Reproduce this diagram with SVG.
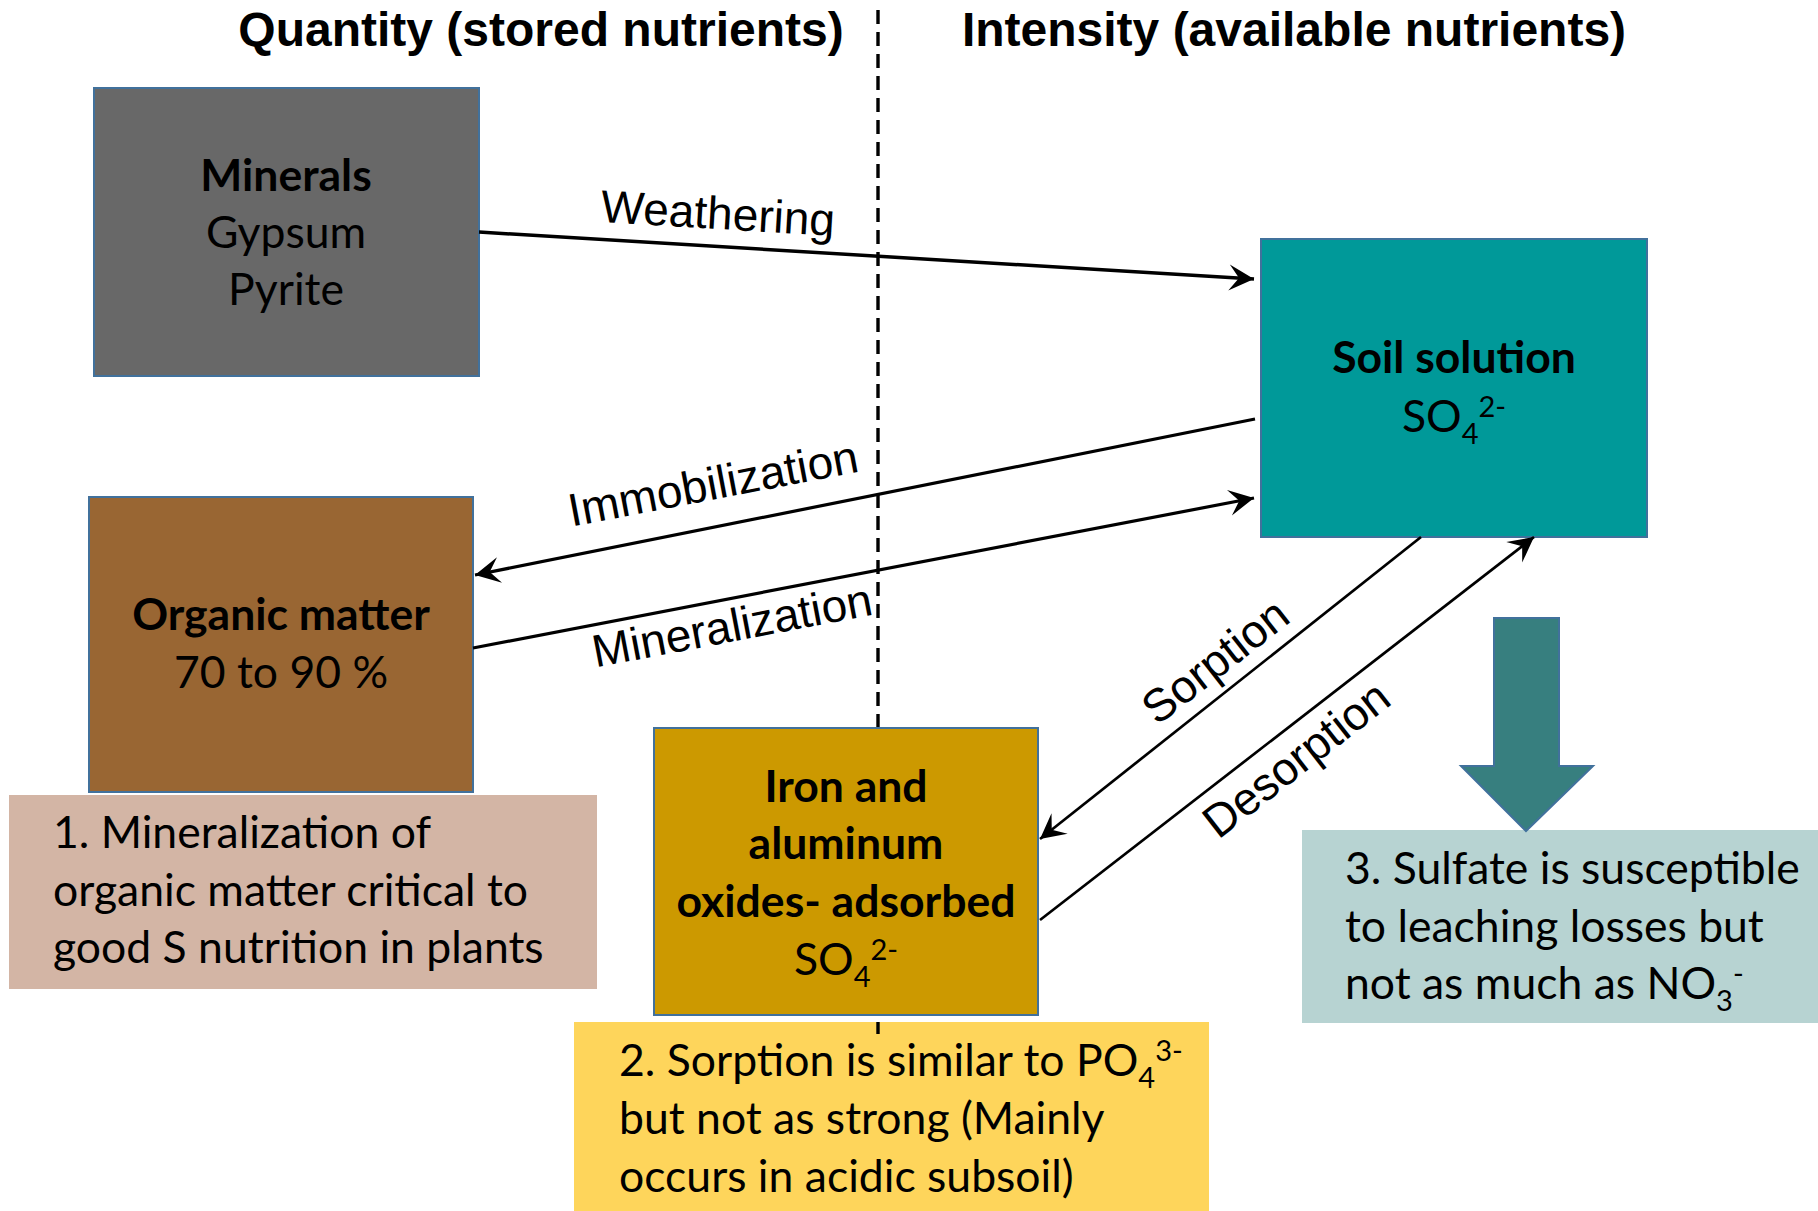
<svg xmlns="http://www.w3.org/2000/svg" width="1818" height="1211" viewBox="0 0 1818 1211">
<style>
.hdr{font-family:"Liberation Sans",Arial,sans-serif;font-weight:bold;font-size:48px;fill:#000}
.lbl{font-family:"Liberation Sans",Arial,sans-serif;font-size:46px;fill:#000}
.bt{font-family:Lato,"Open Sans",sans-serif;font-size:44.5px;fill:#000}
.b{font-weight:bold}
.box{stroke:#41719c;stroke-width:2}
.note{stroke:none}
.con{stroke:#000;fill:none}
.sm{font-size:29px}
</style>
<defs>
<marker id="ah" markerUnits="userSpaceOnUse" viewBox="-27 -15 29 30" refX="0" refY="0" markerWidth="29" markerHeight="30" orient="auto">
<path d="M0,0 L-25,-13 L-15,0 L-25,13 Z" fill="#000"/>
</marker>
</defs>
<rect width="1818" height="1211" fill="#fff"/>

<g id="headers">
<text class="hdr" x="541" y="46" text-anchor="middle">Quantity (stored nutrients)</text>
<text class="hdr" x="1294" y="46" text-anchor="middle">Intensity (available nutrients)</text>
</g>

<g id="note1">
<rect class="note" x="9" y="795" width="588" height="194" fill="#d3b5a5"/>
<text class="bt" x="53" y="848">1. Mineralization of</text>
<text class="bt" x="53" y="906">organic matter critical to</text>
<text class="bt" x="53" y="963">good S nutrition in plants</text>
</g>

<g id="note2">
<rect class="note" x="574" y="1022" width="635" height="189" fill="#fed55b"/>
<text class="bt" x="619" y="1076">2. Sorption is similar to PO<tspan class="sm" dy="12">4</tspan><tspan class="sm" dy="-27">3-</tspan></text>
<text class="bt" x="619" y="1134">but not as strong (Mainly</text>
<text class="bt" x="619" y="1192">occurs in acidic subsoil)</text>
</g>

<g id="note3">
<rect class="note" x="1302" y="830" width="516" height="193" fill="#b7d3d2"/>
<text class="bt" x="1345" y="884">3. Sulfate is susceptible</text>
<text class="bt" x="1345" y="942">to leaching losses but</text>
<text class="bt" x="1345" y="999">not as much as NO<tspan class="sm" dy="12">3</tspan><tspan class="sm" dy="-27">-</tspan></text>
</g>

<line id="divider" x1="878" y1="10" x2="878" y2="1034" stroke="#000" stroke-width="3.4" stroke-dasharray="14 8"/>

<g id="minerals">
<rect class="box" x="94" y="88" width="385" height="288" fill="#686868"/>
<text class="bt b" x="286" y="191" text-anchor="middle">Minerals</text>
<text class="bt" x="286" y="248" text-anchor="middle">Gypsum</text>
<text class="bt" x="286" y="305" text-anchor="middle">Pyrite</text>
</g>

<g id="soil-solution">
<rect class="box" x="1261" y="239" width="386" height="298" fill="#009999"/>
<text class="bt b" x="1454" y="373" text-anchor="middle">Soil solution</text>
<text class="bt" x="1454" y="432" text-anchor="middle">SO<tspan class="sm" dy="12">4</tspan><tspan class="sm" dy="-27">2-</tspan></text>
</g>

<g id="organic-matter">
<rect class="box" x="89" y="497" width="384" height="295" fill="#996633"/>
<text class="bt b" x="281" y="630" text-anchor="middle">Organic matter</text>
<text class="bt" x="281" y="688" text-anchor="middle">70 to 90 %</text>
</g>

<g id="iron-aluminum">
<rect class="box" x="654" y="728" width="384" height="287" fill="#cc9900"/>
<text class="bt b" x="846" y="802" text-anchor="middle">Iron and</text>
<text class="bt b" x="846" y="859" text-anchor="middle">aluminum</text>
<text class="bt b" x="846" y="917" text-anchor="middle">oxides- adsorbed</text>
<text class="bt" x="846" y="975" text-anchor="middle">SO<tspan class="sm" dy="12">4</tspan><tspan class="sm" dy="-27">2-</tspan></text>
</g>

<g id="leaching-arrow">
<polygon points="1494,618 1559,618 1559,766 1593,766 1526,831 1461,766 1494,766" fill="#377f7f" stroke="#41719c" stroke-width="2"/>
</g>

<g id="connectors">
<line class="con" x1="479" y1="232" x2="1254" y2="279" stroke-width="3.5" marker-end="url(#ah)"/>
<line class="con" x1="1255" y1="419" x2="475" y2="575" stroke-width="3.2" marker-end="url(#ah)"/>
<line class="con" x1="473" y1="648" x2="1254" y2="498" stroke-width="3.2" marker-end="url(#ah)"/>
<line class="con" x1="1421" y1="537" x2="1040" y2="839" stroke-width="2.7" marker-end="url(#ah)"/>
<line class="con" x1="1040" y1="920" x2="1534" y2="537" stroke-width="2.7" marker-end="url(#ah)"/>
<text class="lbl" text-anchor="middle" transform="translate(717,229) rotate(3.4)">Weathering</text>
<text class="lbl" text-anchor="middle" transform="translate(716,499) rotate(-10.8)">Immobilization</text>
<text class="lbl" text-anchor="middle" transform="translate(735,641) rotate(-10.8)">Mineralization</text>
<text class="lbl" text-anchor="middle" transform="translate(1215,661) rotate(-38)" y="16">Sorption</text>
<text class="lbl" text-anchor="middle" transform="translate(1296,759) rotate(-38)" y="16">Desorption</text>
</g>
</svg>
